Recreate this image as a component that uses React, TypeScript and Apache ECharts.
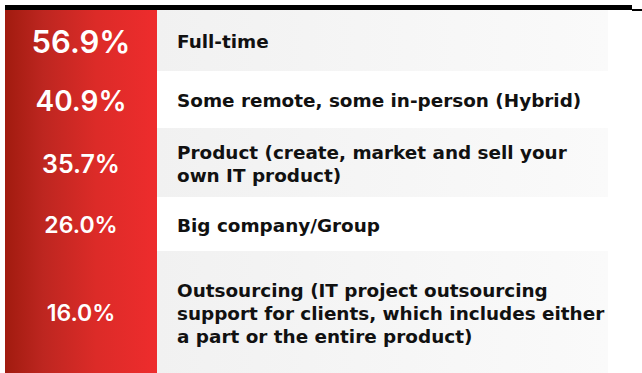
import React, { useEffect, useRef } from "react";
import * as echarts from "echarts";

const percents = ["56.9%", "40.9%", "35.7%", "26.0%", "16.0%"];
const values = [56.9, 40.9, 35.7, 26.0, 16.0];
const labels = [
  "Full-time",
  "Some remote, some in-person (Hybrid)",
  "Product (create, market and sell your\nown IT product)",
  "Big company/Group",
  "Outsourcing (IT project outsourcing\nsupport for clients, which includes either\na part or the entire product)",
];

// layout (pixel units on hidden axes)
const ROW_EDGES = [10, 71, 128, 197, 251, 373];
const PCT_SIZES = [31, 28, 25, 23, 23];
const RED_W = 152;
const LABEL_X = 172;
const FULL_W = 603;

export default function App() {
  const ref = useRef<HTMLDivElement>(null);
  useEffect(() => {
    const chart = echarts.init(ref.current!, null, { renderer: "svg" });
    const data = values.map((v, i) => [i, v]);
    chart.setOption({
      animation: false,
      backgroundColor: "#ffffff",
      grid: { left: 5, width: FULL_W, top: 10, bottom: 0 },
      xAxis: { type: "value", min: 0, max: FULL_W, show: false },
      yAxis: { type: "value", min: 10, max: 373, inverse: true, show: false },
      graphic: [
        { type: "rect", shape: { x: 5, y: 5, width: 627, height: 5 }, style: { fill: "#000" } },
        { type: "rect", shape: { x: 632, y: 9, width: 10, height: 2 }, style: { fill: "#000" } },
      ],
      series: [
        {
          type: "custom",
          data,
          renderItem: (params: any, api: any) => {
            const i = api.value(0);
            const top = ROW_EDGES[i];
            const bot = ROW_EDGES[i + 1];
            const p0 = api.coord([0, top]);
            const p1 = api.coord([RED_W, bot]);
            const p2 = api.coord([FULL_W, bot]);
            const pl = api.coord([LABEL_X, (top + bot) / 2]);
            const h = p1[1] - p0[1];
            const children: any[] = [];
            if (i % 2 === 0) {
              children.push({
                type: "rect",
                shape: { x: p1[0], y: p0[1], width: p2[0] - p1[0], height: h },
                style: {
                  fill: new echarts.graphic.LinearGradient(0, 0, 1, 0, [
                    { offset: 0, color: "#f1f1f1" },
                    { offset: 1, color: "#fafafa" },
                  ]),
                },
              });
            }
            children.push({
              type: "rect",
              shape: { x: p0[0], y: p0[1], width: p1[0] - p0[0], height: h },
              style: {
                fill: new echarts.graphic.LinearGradient(0, 0, 1, 0, [
                  { offset: 0, color: "#a11b0f" },
                  { offset: 0.25, color: "#bd2620" },
                  { offset: 0.6, color: "#dc2b28" },
                  { offset: 1, color: "#ee2c2d" },
                ]),
              },
            });
            children.push({
              type: "text",
              x: (p0[0] + p1[0]) / 2,
              y: (p0[1] + p1[1]) / 2 + 1,
              style: {
                text: percents[i],
                fill: "#ffffff",
                font: `600 ${PCT_SIZES[i]}px Inter`,
                align: "center",
                verticalAlign: "middle",
              },
            });
            children.push({
              type: "text",
              x: pl[0],
              y: pl[1] + 1,
              style: {
                text: labels[i],
                fill: "#111111",
                font: "bold 18.4px 'DejaVu Sans'",
                lineHeight: 23,
                align: "left",
                verticalAlign: "middle",
              },
            });
            return { type: "group", children };
          },
        },
      ],
    });
    return () => chart.dispose();
  }, []);
  return <div ref={ref} style={{ width: 642, height: 373, position: "absolute", left: 0, top: 0 }} />;
}
